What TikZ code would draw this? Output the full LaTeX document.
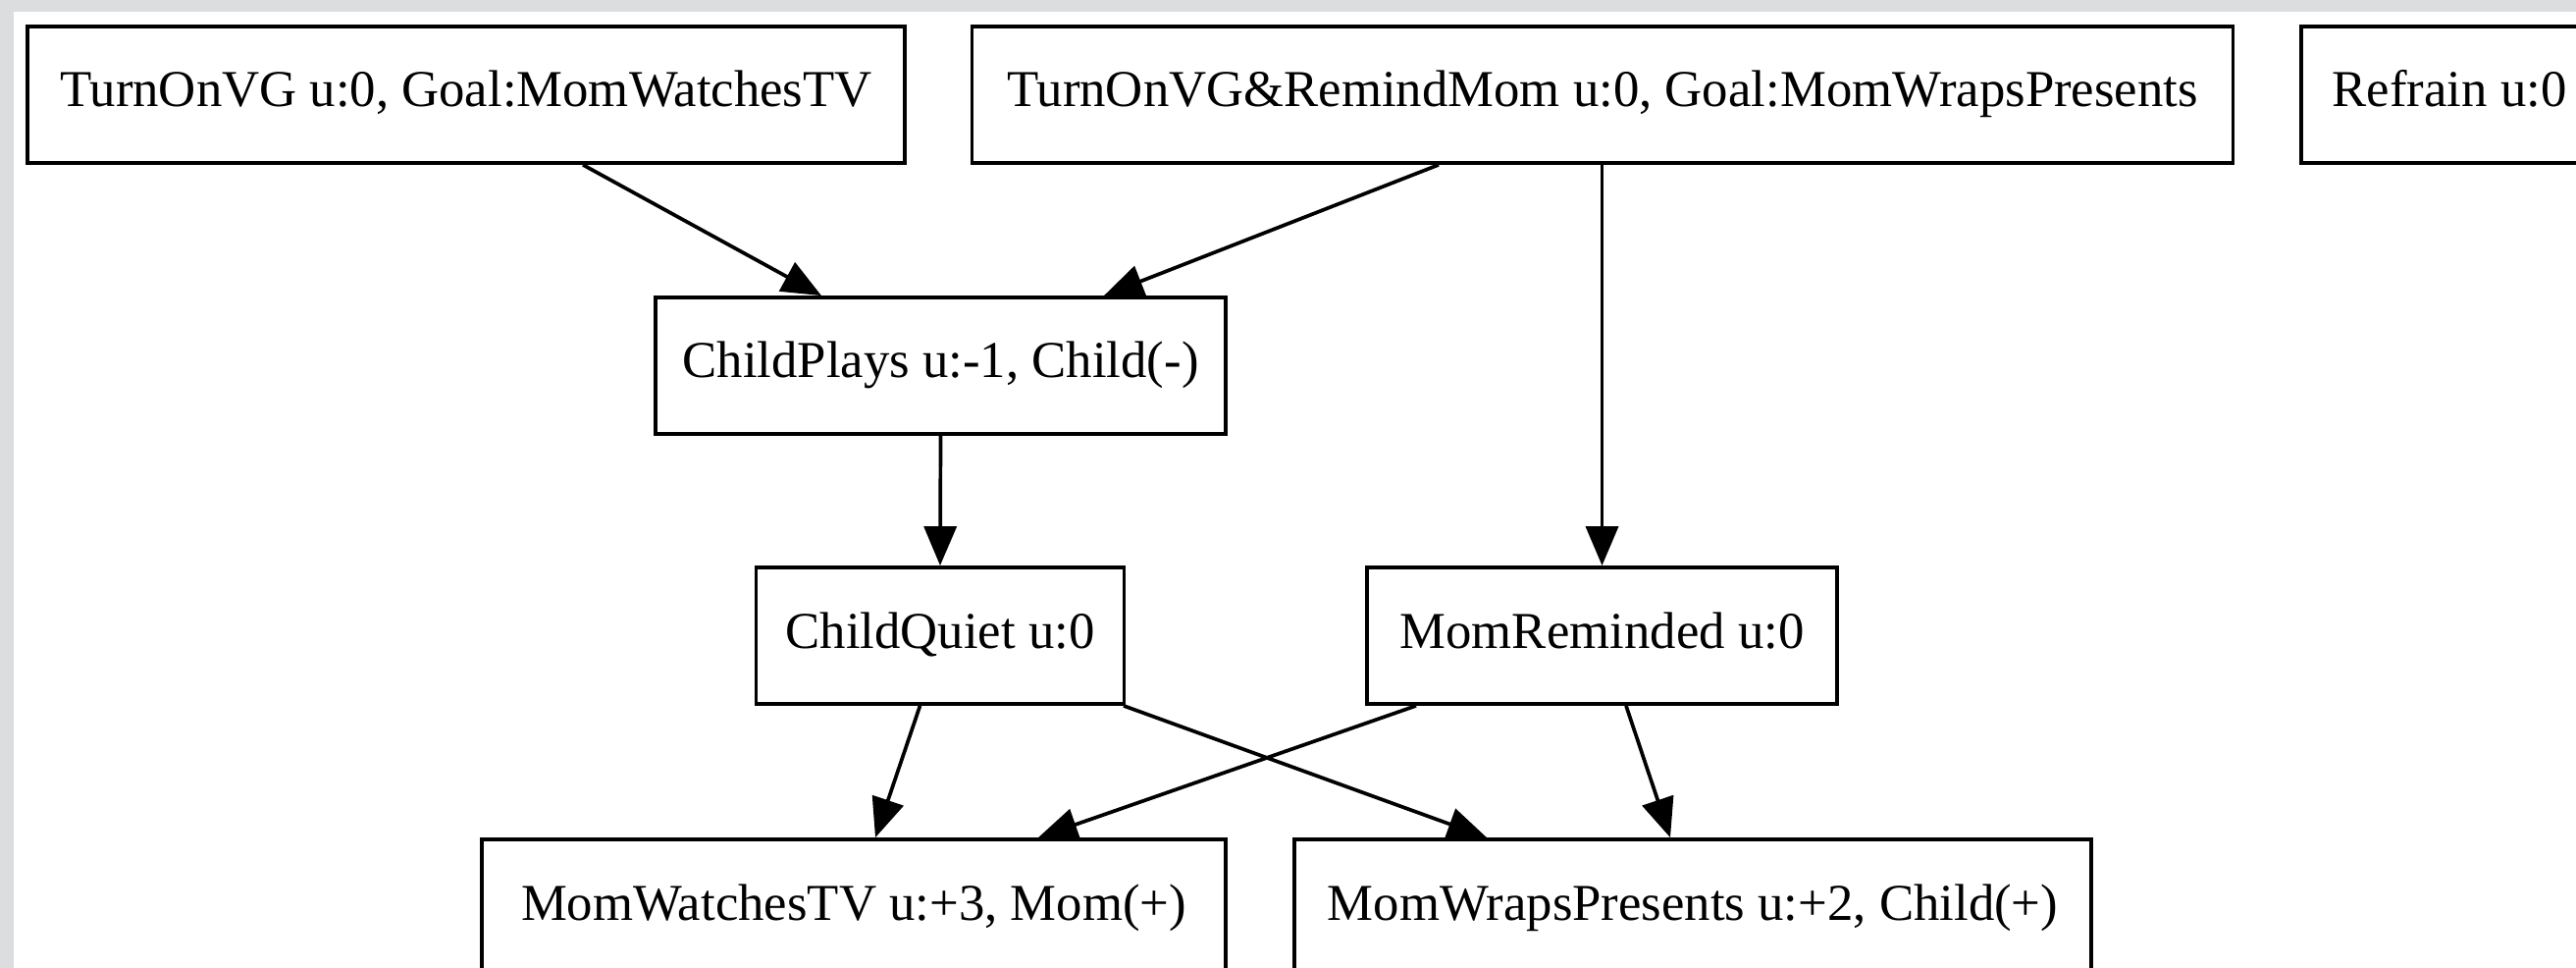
\documentclass[tikz,border=0pt]{standalone}
\usepackage{fontspec}
\setmainfont{Liberation Serif}
\usetikzlibrary{arrows.meta,calc}
\definecolor{framegray}{HTML}{DCDDDF}
\tikzset{
  box/.style={draw=black, fill=white, line width=0.037cm, rectangle,
    minimum height=1.39cm, inner sep=0pt,
    text height=0.36cm, text depth=0.11cm,
    font=\fontsize{15}{18}\selectfont},
  link/.style={draw=black, line width=0.037cm,
    -{Triangle[length=0.4cm, width=0.33cm]}}
}
\begin{document}
\begin{tikzpicture}[x=0.01cm, y=-0.01cm]
  % page frame
  \useasboundingbox (0,0) rectangle (2625,986);
  \fill[framegray] (0,0) rectangle (2625,986);
  \fill[white] (14,12) rectangle (2625,986);

  % top row: candidate actions
  \node[box, minimum width=8.94cm]  (A) at (475,96.5)   {TurnOnVG u:0, Goal:MomWatchesTV};
  \node[box, minimum width=12.84cm] (B) at (1633,96.5)  {TurnOnVG\&RemindMom u:0, Goal:MomWrapsPresents};
  \node[box, minimum width=3.02cm]  (C) at (2496,96.5)  {Refrain u:0};

  % intermediate events
  \node[box, minimum width=5.81cm]  (D) at (958.5,372.5) {ChildPlays u:-1, Child(-)};
  \node[box, minimum width=3.75cm]  (E) at (958,647.5)   {ChildQuiet u:0};
  \node[box, minimum width=4.79cm]  (F) at (1632.5,647.5){MomReminded u:0};

  % outcomes
  \node[box, minimum width=7.57cm]  (G) at (870,924.5)  {MomWatchesTV u:+3, Mom(+)};
  \node[box, minimum width=8.12cm]  (H) at (1725,924.5) {MomWrapsPresents u:+2, Child(+)};

  % connectors
  \draw[link] ($(A.south)+(119,0)$)    -- ($(D.north)+(-121.5,0)$);
  \draw[link] ($(B.south)+(-167,0)$)   -- ($(D.north)+(166.5,0)$);
  \draw[link] ($(B.south)+(-0.5,0)$)   -- (F.north);
  \draw[link] (D.south)                -- (E.north);
  \draw[link] ($(E.south)+(-20.5,0)$)  -- ($(G.north)+(22,0)$);
  \draw[link] ($(E.south)+(187,0)$)    -- ($(H.north)+(-210,0)$);
  \draw[link] ($(F.south)+(-189.5,0)$) -- ($(G.north)+(188,0)$);
  \draw[link] ($(F.south)+(24.5,0)$)   -- ($(H.north)+(-23,0)$);
\end{tikzpicture}
\end{document}
